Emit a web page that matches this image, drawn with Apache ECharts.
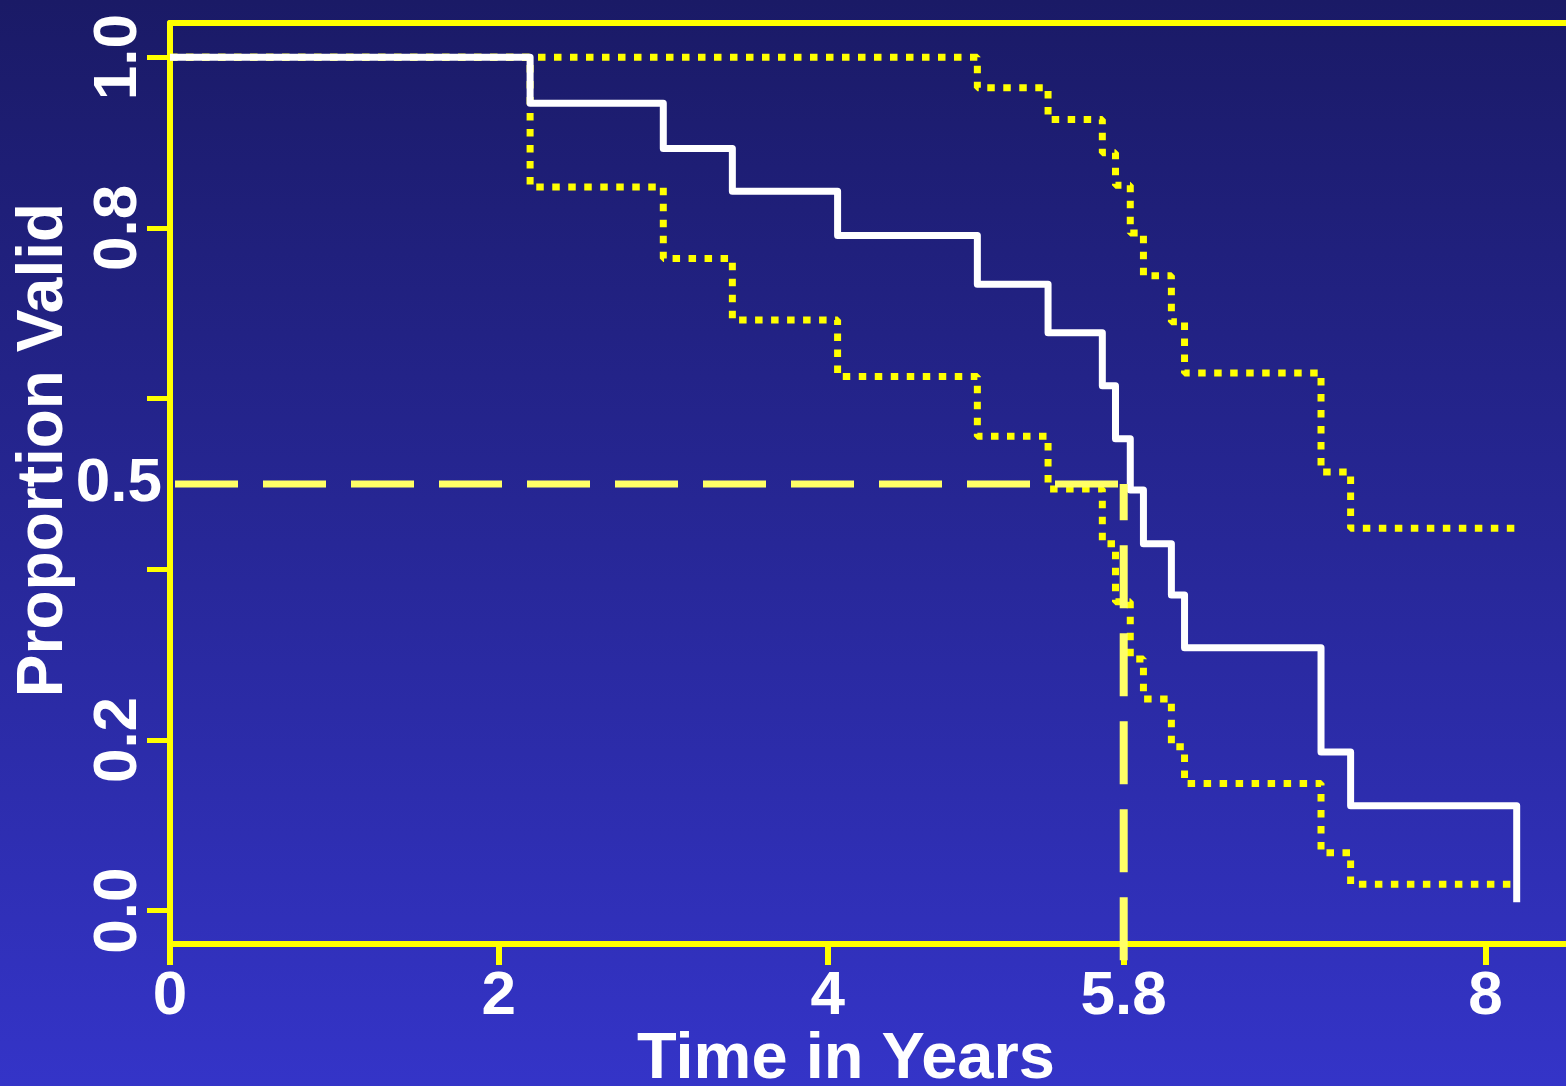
<!DOCTYPE html>
<html>
<head>
<meta charset="utf-8">
<script src="https://cdn.jsdelivr.net/npm/echarts@6/dist/echarts.min.js"></script>
<style>
  html, body { margin: 0; padding: 0; }
  #chart {
    width: 1566px;
    height: 1086px;
    background: linear-gradient(to bottom, #1a1a66 0%, #3434c8 100%);
  }
</style>
</head>
<body>
<div id="chart"></div>
<script>
// Kaplan-Meier estimate of the proportion still valid, with pointwise confidence band
const times    = [0, 2.19, 3.0, 3.42, 4.06, 4.91, 5.34, 5.67, 5.75, 5.84, 5.92, 6.09, 6.17, 7.0, 7.18, 8.19];
const survival = [1.0, 0.946, 0.893, 0.843, 0.791, 0.734, 0.677, 0.615, 0.553, 0.493, 0.430, 0.370, 0.308, 0.186, 0.123, 0.01];
const upperCI  = [1.0, 1.0, 1.0, 1.0, 1.0, 0.964, 0.927, 0.888, 0.850, 0.794, 0.744, 0.690, 0.630, 0.514, 0.448, 0.448];
const lowerCI  = [1.0, 0.848, 0.764, 0.692, 0.626, 0.556, 0.494, 0.430, 0.362, 0.295, 0.248, 0.192, 0.149, 0.068, 0.031, 0.031];

// Median survival marker
const medianLevel = 0.5;
const medianTime = 5.8;

// Axis ticks and labels
const xTicks = [0, 2, 4, 5.8, 8];
const yTicks = [0, 0.2, 0.4, 0.6, 0.8, 1.0];
const yLabels = [0, 0.2, 0.8, 1.0];
const yExtraLabels = [0.5];

const xMin = 0, xMax = 8.575;
const yMin = -0.039, yMax = 1.04;
const yBelowAxis = -0.058;

const FONT = '"Liberation Sans", Arial, Helvetica, sans-serif';
const YELLOW = '#ffff00';
const PALE_YELLOW = '#ffff66';

const pairs = (xs, ys) => xs.map((x, i) => [x, ys[i]]);

const chart = echarts.init(document.getElementById('chart'), null, { renderer: 'canvas' });

const tickLabelStyle = {
  color: '#ffffff',
  fontSize: 62,
  fontWeight: 'bold',
  fontFamily: FONT
};

chart.setOption({
  animation: false,
  backgroundColor: 'transparent',
  grid: {
    left: 170,
    top: 23,
    width: 1410,
    height: 921,
    containLabel: false,
    outerBoundsMode: 'none'
  },
  xAxis: [
    {
      type: 'value',
      position: 'bottom',
      min: xMin,
      max: xMax,
      splitLine: { show: false },
      axisLine: { show: true, onZero: false, lineStyle: { color: YELLOW, width: 6 } },
      axisTick: { show: true, customValues: xTicks, length: 21, lineStyle: { color: YELLOW, width: 6 } },
      axisLabel: Object.assign({
        customValues: xTicks,
        margin: 22,
        formatter: v => String(v)
      }, tickLabelStyle)
    },
    {
      type: 'value',
      position: 'top',
      min: xMin,
      max: xMax,
      splitLine: { show: false },
      axisLine: { show: true, onZero: false, lineStyle: { color: YELLOW, width: 6 } },
      axisTick: { show: false },
      axisLabel: { show: false }
    }
  ],
  yAxis: [
    {
      type: 'value',
      position: 'left',
      min: yMin,
      max: yMax,
      splitLine: { show: false },
      axisLine: { show: true, onZero: false, lineStyle: { color: YELLOW, width: 6 } },
      axisTick: { show: true, customValues: yTicks, length: 23, lineStyle: { color: YELLOW, width: 5 } },
      axisLabel: Object.assign({
        customValues: yLabels,
        rotate: 90,
        margin: 20,
        formatter: v => v.toFixed(1)
      }, tickLabelStyle)
    },
    {
      type: 'value',
      position: 'left',
      offset: 0,
      min: yMin,
      max: yMax,
      splitLine: { show: false },
      axisLine: { show: false },
      axisTick: { show: false },
      axisLabel: Object.assign({
        customValues: yExtraLabels,
        margin: 8,
        formatter: v => v.toFixed(1)
      }, tickLabelStyle)
    }
  ],
  series: [
    {
      name: 'Upper limit',
      type: 'line',
      step: 'end',
      symbol: 'none',
      silent: true,
      z: 2,
      data: pairs(times, upperCI),
      lineStyle: { color: YELLOW, width: 7, type: [7.5, 8.5], cap: 'butt' }
    },
    {
      name: 'Lower limit',
      type: 'line',
      step: 'end',
      symbol: 'none',
      silent: true,
      z: 2,
      data: pairs(times, lowerCI),
      lineStyle: { color: YELLOW, width: 7, type: [7.5, 8.5], cap: 'butt' }
    },
    {
      name: 'Proportion valid',
      type: 'line',
      step: 'end',
      symbol: 'none',
      silent: true,
      z: 6,
      data: pairs(times, survival),
      lineStyle: { color: '#ffffff', width: 7, cap: 'butt', join: 'round' }
    },
    {
      name: 'Median level',
      type: 'line',
      symbol: 'none',
      silent: true,
      z: 8,
      data: [[xMin, medianLevel], [medianTime, medianLevel]],
      lineStyle: { color: PALE_YELLOW, width: 7, type: [63, 25], dashOffset: -5, cap: 'butt' }
    },
    {
      name: 'Median time',
      type: 'line',
      symbol: 'none',
      silent: true,
      clip: false,
      z: 8,
      data: [[medianTime, yBelowAxis], [medianTime, medianLevel]],
      lineStyle: { color: PALE_YELLOW, width: 8, type: [63, 25], cap: 'butt' }
    }
  ],
  graphic: [
    {
      type: 'text',
      x: 846,
      y: 1060,
      silent: true,
      style: {
        text: 'Time in Years',
        font: 'bold 65px ' + FONT,
        fill: '#ffffff',
        align: 'center',
        verticalAlign: 'middle',
        textAlign: 'center',
        textVerticalAlign: 'middle'
      }
    },
    {
      type: 'text',
      x: 44,
      y: 450,
      rotation: Math.PI / 2,
      silent: true,
      style: {
        text: 'Proportion Valid',
        font: 'bold 64px ' + FONT,
        fill: '#ffffff',
        align: 'center',
        verticalAlign: 'middle',
        textAlign: 'center',
        textVerticalAlign: 'middle'
      }
    }
  ]
});
</script>
</body>
</html>
